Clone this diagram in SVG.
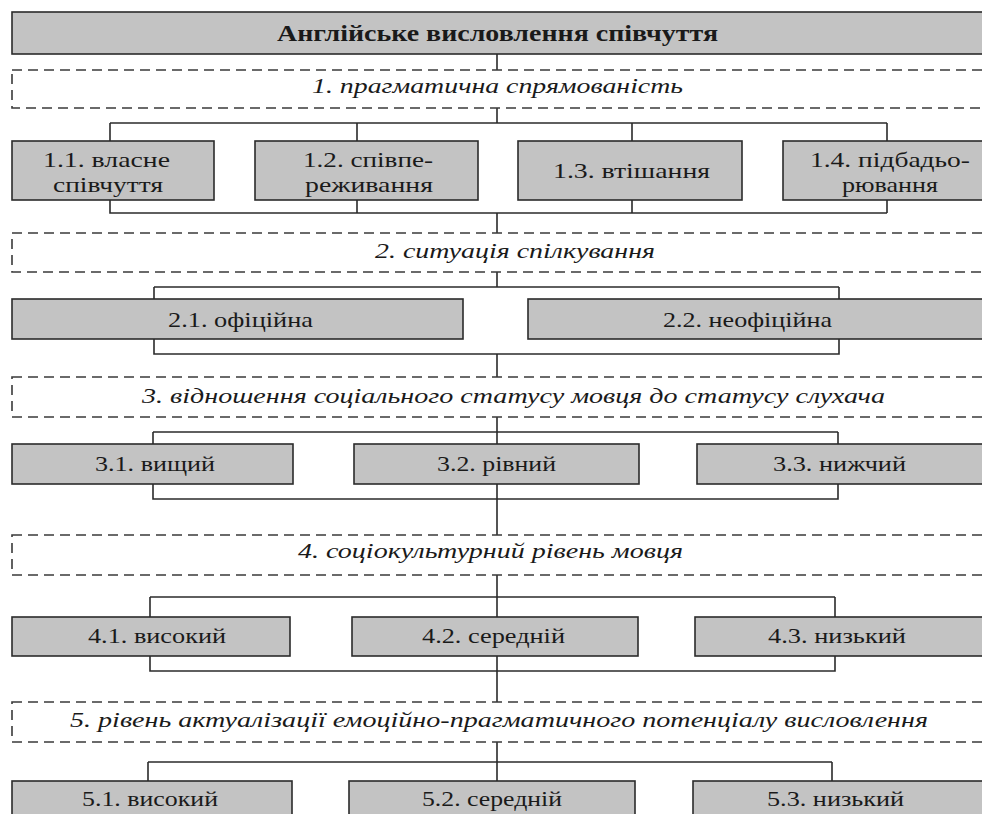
<svg xmlns="http://www.w3.org/2000/svg" width="982" height="814" viewBox="0 0 982 814">
<style>
.box{fill:#c3c3c3;stroke:#2b2b2b;stroke-width:1.6}
.dash{fill:#fff;stroke:#3a3a3a;stroke-width:1.6;stroke-dasharray:10 6}
.t{font-family:'Liberation Serif','Times New Roman','DejaVu Serif',serif;font-size:22px;fill:#1a1a1a;text-anchor:middle}
.b{font-weight:bold;font-size:23px}
.i{font-style:italic}
.c{fill:none;stroke:#2b2b2b;stroke-width:1.6}
</style>
<rect width="982" height="814" fill="#fff"/>
<g id="connectors">
<path class="c" d="M497 54V70M497 108V123M110 123H887M110 123V141M357 123V141M632 123V141M887 123V141"/>
<path class="c" d="M110 200V213H887M357 200V213M632 200V213M887 200V213M497 213V233"/>
<path class="c" d="M497 272V287M154 287H839M154 287V299M839 287V299M154 339V354H839V339M497 354V377"/>
<path class="c" d="M497 417V432M153 432H838M153 432V444M838 432V444M497 432V444M153 484V499H838V484M497 484V535"/>
<path class="c" d="M497 575V597M150 597H835M150 597V617M835 597V617M497 597V617M150 656V671H835V656M497 656V702"/>
<path class="c" d="M497 742V762M148 762H832M148 762V781M832 762V781M497 762V781"/>
</g>
<g id="title"><rect class="box" x="12" y="12" width="985" height="42"/><text class="t b" x="497.5" y="41" textLength="441" lengthAdjust="spacingAndGlyphs">Англійське висловлення співчуття</text></g>
<g id="c1"><rect class="dash" x="12" y="70" width="985" height="38"/><text class="t i" x="497.5" y="93" textLength="371" lengthAdjust="spacingAndGlyphs">1. прагматична спрямованість</text></g>
<g id="n11"><rect class="box" x="12" y="141" width="202" height="59"/><text class="t" x="106.5" y="167" textLength="127" lengthAdjust="spacingAndGlyphs">1.1. власне</text><text class="t" x="108" y="192" textLength="110" lengthAdjust="spacingAndGlyphs">співчуття</text></g>
<g id="n12"><rect class="box" x="255" y="141" width="223" height="59"/><text class="t" x="368" y="167" textLength="130" lengthAdjust="spacingAndGlyphs">1.2. співпе-</text><text class="t" x="369" y="192" textLength="128" lengthAdjust="spacingAndGlyphs">реживання</text></g>
<g id="n13"><rect class="box" x="518" y="141" width="224" height="59"/><text class="t" x="631.5" y="178" textLength="157" lengthAdjust="spacingAndGlyphs">1.3. втішання</text></g>
<g id="n14"><rect class="box" x="783" y="141" width="214" height="59"/><text class="t" x="890" y="167" textLength="160" lengthAdjust="spacingAndGlyphs">1.4. підбадьо-</text><text class="t" x="890" y="192" textLength="96" lengthAdjust="spacingAndGlyphs">рювання</text></g>
<g id="c2"><rect class="dash" x="12" y="233" width="985" height="39"/><text class="t i" x="515" y="258" textLength="280" lengthAdjust="spacingAndGlyphs">2. ситуація спілкування</text></g>
<g id="n21"><rect class="box" x="12" y="299" width="451" height="40"/><text class="t" x="240.5" y="327" textLength="145" lengthAdjust="spacingAndGlyphs">2.1. офіційна</text></g>
<g id="n22"><rect class="box" x="528" y="299" width="469" height="40"/><text class="t" x="747.5" y="327" textLength="169" lengthAdjust="spacingAndGlyphs">2.2. неофіційна</text></g>
<g id="c3"><rect class="dash" x="12" y="377" width="985" height="40"/><text class="t i" x="513.5" y="403" textLength="743" lengthAdjust="spacingAndGlyphs">3. відношення соціального статусу мовця до статусу слухача</text></g>
<g id="n31"><rect class="box" x="12" y="444" width="281" height="40"/><text class="t" x="155" y="471" textLength="120" lengthAdjust="spacingAndGlyphs">3.1. вищий</text></g>
<g id="n32"><rect class="box" x="354" y="444" width="285" height="40"/><text class="t" x="496.5" y="471" textLength="119" lengthAdjust="spacingAndGlyphs">3.2. рівний</text></g>
<g id="n33"><rect class="box" x="697" y="444" width="300" height="40"/><text class="t" x="839.5" y="471" textLength="133" lengthAdjust="spacingAndGlyphs">3.3. нижчий</text></g>
<g id="c4"><rect class="dash" x="12" y="535" width="985" height="40"/><text class="t i" x="490.5" y="558" textLength="385" lengthAdjust="spacingAndGlyphs">4. соціокультурний рівень мовця</text></g>
<g id="n41"><rect class="box" x="12" y="617" width="278" height="39"/><text class="t" x="157" y="643" textLength="138" lengthAdjust="spacingAndGlyphs">4.1. високий</text></g>
<g id="n42"><rect class="box" x="352" y="617" width="286" height="39"/><text class="t" x="493.5" y="643" textLength="143" lengthAdjust="spacingAndGlyphs">4.2. середній</text></g>
<g id="n43"><rect class="box" x="695" y="617" width="302" height="39"/><text class="t" x="837" y="643" textLength="138" lengthAdjust="spacingAndGlyphs">4.3. низький</text></g>
<g id="c5"><rect class="dash" x="12" y="702" width="985" height="40"/><text class="t i" x="499" y="727" textLength="858" lengthAdjust="spacingAndGlyphs">5. рівень актуалізації емоційно-прагматичного потенціалу висловлення</text></g>
<g id="n51"><rect class="box" x="12" y="781" width="280" height="40"/><text class="t" x="150" y="806" textLength="136" lengthAdjust="spacingAndGlyphs">5.1. високий</text></g>
<g id="n52"><rect class="box" x="349" y="781" width="286" height="40"/><text class="t" x="492" y="806" textLength="140" lengthAdjust="spacingAndGlyphs">5.2. середній</text></g>
<g id="n53"><rect class="box" x="693" y="781" width="304" height="40"/><text class="t" x="835.5" y="806" textLength="137" lengthAdjust="spacingAndGlyphs">5.3. низький</text></g>
</svg>
